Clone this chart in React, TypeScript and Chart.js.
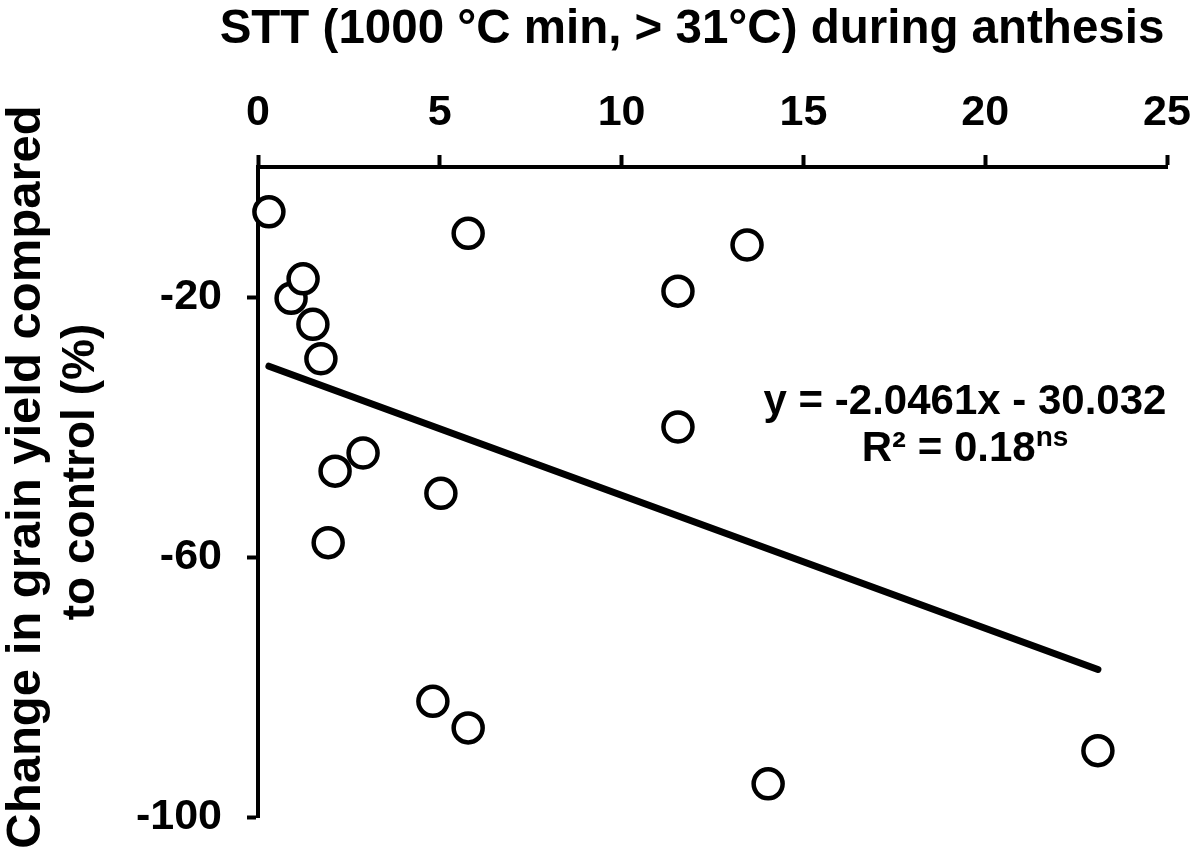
import React, { useEffect, useRef } from "react";
import { Chart, registerables } from "chart.js";

Chart.register(...registerables);

// STT (1000 °C min above 31 °C) during anthesis
const sttValues: number[] = [
  0.3, 5.78, 13.45, 0.91, 1.24, 11.55, 1.51, 1.73, 11.55, 2.89, 2.12, 5.03, 1.93, 4.81, 5.78, 23.1, 14.03,
];
// Change in grain yield relative to control (%)
const yieldChange: number[] = [
  -6.9, -10.2, -12.0, -20.2, -17.2, -19.1, -24.2, -29.5, -40.0, -44.0, -46.8, -50.2, -57.8, -82.2, -86.3, -89.8, -94.9,
];

// Linear fit reported on the chart
const slope = -2.0461;
const intercept = -30.032;
const rSquared = "0.18";

const xTicks: number[] = [0, 5, 10, 15, 20, 25];
const yTicks: number[] = [-100, -60, -20];

const titleText = "STT (1000 °C min, > 31°C) during anthesis";
const yTitleLines = ["Change in grain yield compared", "to control (%)"];

const FONT = "'Liberation Sans', Arial, Helvetica, sans-serif";

const textPlugin = {
  id: "figureTexts",
  afterDraw(chart: Chart) {
    const ctx = chart.ctx;
    ctx.save();
    ctx.fillStyle = "#000";

    // top axis title
    ctx.font = `bold 47.5px ${FONT}`;
    ctx.textAlign = "center";
    ctx.textBaseline = "alphabetic";
    ctx.fillText(titleText, 692, 43);

    // rotated y-axis title (two lines)
    ctx.save();
    ctx.rotate(-Math.PI / 2);
    ctx.textAlign = "center";
    ctx.font = `bold 49px ${FONT}`;
    ctx.fillText(yTitleLines[0], -477, 40);
    ctx.font = `bold 46px ${FONT}`;
    ctx.fillText(yTitleLines[1], -472, 94);
    ctx.restore();

    // regression equation
    const cx = 965;
    ctx.font = `bold 42px ${FONT}`;
    ctx.textAlign = "center";
    const eq = `y = ${slope.toFixed(4)}x - ${Math.abs(intercept).toFixed(3)}`;
    ctx.fillText(eq, cx, 414);

    const main = `R² = ${rSquared}`;
    const sup = "ns";
    ctx.font = `bold 42px ${FONT}`;
    const wMain = ctx.measureText(main).width;
    ctx.font = `bold 28px ${FONT}`;
    const wSup = ctx.measureText(sup).width;
    const start = cx - (wMain + wSup) / 2;
    ctx.textAlign = "left";
    ctx.font = `bold 42px ${FONT}`;
    ctx.fillText(main, start, 461);
    ctx.font = `bold 28px ${FONT}`;
    ctx.fillText(sup, start + wMain, 446);

    ctx.restore();
  },
};

const clearScalePadding = (s: any) => {
  s.paddingLeft = 0;
  s.paddingRight = 0;
  s.paddingTop = 0;
  s.paddingBottom = 0;
};

export default function App() {
  const canvasRef = useRef<HTMLCanvasElement | null>(null);

  useEffect(() => {
    document.body.style.margin = "0";
    const canvas = canvasRef.current;
    if (!canvas) return;

    const points = sttValues.map((x, i) => ({ x, y: yieldChange[i] }));
    const xMin = Math.min(...sttValues);
    const xMax = Math.max(...sttValues);
    const trend = [
      { x: xMin, y: slope * xMin + intercept },
      { x: xMax, y: slope * xMax + intercept },
    ];

    const chart = new Chart(canvas, {
      type: "scatter",
      data: {
        datasets: [
          {
            type: "line",
            data: trend,
            borderColor: "#000",
            borderWidth: 7,
            borderCapStyle: "round",
            pointRadius: 0,
            fill: false,
            order: 1,
          },
          {
            data: points,
            pointRadius: 14.5,
            pointHoverRadius: 14.5,
            pointBorderWidth: 4.5,
            pointBorderColor: "#000",
            pointBackgroundColor: "#fff",
            clip: false,
            order: 2,
          },
        ],
      },
      options: {
        responsive: false,
        animation: false,
        events: [],
        layout: { padding: { top: 0, left: 0, right: 28, bottom: 38 } },
        plugins: {
          legend: { display: false },
          tooltip: { enabled: false },
        },
        scales: {
          x: {
            type: "linear",
            position: "top",
            min: 0,
            max: 25,
            afterFit: (s: any) => {
              s.height = 167;
              clearScalePadding(s);
            },
            afterBuildTicks: (s: any) => {
              s.ticks = xTicks.map((v) => ({ value: v }));
            },
            ticks: {
              color: "#000",
              padding: 16,
              maxRotation: 0,
              font: { family: FONT, size: 43, weight: "bold" },
            },
            grid: {
              drawOnChartArea: false,
              drawTicks: true,
              tickLength: 12,
              tickWidth: 4,
              tickColor: "#000",
            },
            border: { display: true, color: "#000", width: 4 },
          },
          y: {
            type: "linear",
            min: -100,
            max: 0,
            afterFit: (s: any) => {
              s.width = 258;
              clearScalePadding(s);
            },
            afterBuildTicks: (s: any) => {
              s.ticks = yTicks.map((v) => ({ value: v }));
            },
            ticks: {
              color: "#000",
              padding: 25,
              font: { family: FONT, size: 43, weight: "bold" },
            },
            grid: {
              drawOnChartArea: false,
              drawTicks: true,
              tickLength: 11,
              tickWidth: 4,
              tickColor: "#000",
            },
            border: { display: true, color: "#000", width: 4 },
          },
        },
      },
      plugins: [textPlugin],
    });

    return () => chart.destroy();
  }, []);

  return (
    <div style={{ width: 1195, height: 855, background: "#fff" }}>
      <canvas ref={canvasRef} width={1195} height={855} />
    </div>
  );
}
